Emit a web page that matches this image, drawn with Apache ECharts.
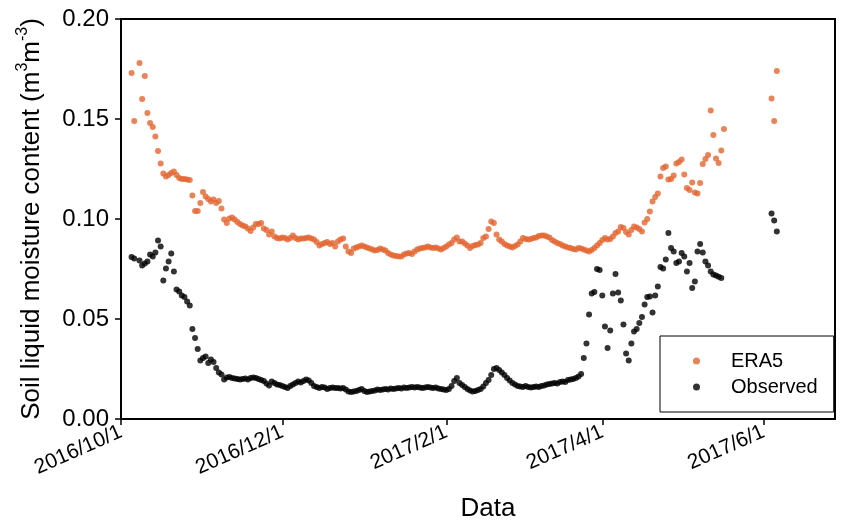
<!DOCTYPE html>
<html>
<head>
<meta charset="utf-8">
<script src="https://cdn.jsdelivr.net/npm/echarts@6/dist/echarts.min.js"></script>
<style>
html,body{margin:0;padding:0;background:#fff;}
#chart{width:842px;height:522px;}
</style>
</head>
<body>
<div id="chart"></div>
<script>
// ---- data ----
const xTickLabels = ['2016/10/1', '2016/12/1', '2017/2/1', '2017/4/1', '2017/6/1'];
const xRange = ['2016/10/1', '2017/6/28'];

// daily values, first entry = mainStart (null = no value that day)
const mainStart = '2016/10/5';
const era5Main = [
  0.173, 0.149, null, 0.178, 0.160, 0.1715, 0.153, 0.148, 0.146, 0.1413,
  0.134, 0.1277, 0.1227, 0.1213, 0.122, 0.123, 0.1238, 0.122, 0.1205, 0.120,
  0.120, 0.1197, 0.1195, 0.1118, 0.104, 0.104, 0.108, 0.1135, 0.1113, 0.110,
  0.1088, 0.1097, 0.108, 0.109, 0.1052, 0.0997, 0.098, 0.1003, 0.1007, 0.0998,
  0.0985, 0.0975, 0.0968, 0.0962, 0.0953, 0.094, 0.0957, 0.0975, 0.0975, 0.098,
  0.0953, 0.0945, 0.0922, 0.0938, 0.0913, 0.0905, 0.0902, 0.0908, 0.0905, 0.0897,
  0.0905, 0.0918, 0.0905, 0.0897, 0.0902, 0.0902, 0.0905, 0.0908, 0.0902, 0.0897,
  0.0885, 0.0868, 0.0875, 0.088, 0.0885, 0.0875, 0.088, 0.0863, 0.0888, 0.0897,
  0.0902, 0.0863, 0.0838, 0.083, 0.0852, 0.0858, 0.0863, 0.0868, 0.0863, 0.0858,
  0.0852, 0.0847, 0.0842, 0.0845, 0.0852, 0.0848, 0.0842, 0.083, 0.0822, 0.0818,
  0.0815, 0.0813, 0.0813, 0.0822, 0.0828, 0.083, 0.0825, 0.0838, 0.0847, 0.0852,
  0.0855, 0.0858, 0.0863, 0.0858, 0.0855, 0.0858, 0.0852, 0.0847, 0.0855, 0.0863,
  0.0872, 0.088, 0.0897, 0.0908, 0.0888, 0.0888, 0.0878, 0.0868, 0.0855, 0.0865,
  0.087, 0.0872, 0.088, 0.0905, 0.0913, 0.095, 0.0988, 0.098, 0.0922, 0.0897,
  0.0887, 0.0875, 0.0868, 0.0863, 0.0858, 0.0865, 0.0872, 0.0888, 0.0905, 0.090,
  0.0897, 0.090, 0.0905, 0.0908, 0.0915, 0.0918, 0.0918, 0.0912, 0.0908, 0.0895,
  0.0888, 0.088, 0.0875, 0.0868, 0.0863, 0.0858, 0.0855, 0.085, 0.0847, 0.0855,
  0.0852, 0.0847, 0.0842, 0.0838, 0.0845, 0.0855, 0.0868, 0.088, 0.0895, 0.0905,
  0.0897, 0.090, 0.0913, 0.093, 0.0938, 0.096, 0.0955, 0.0935, 0.0922, 0.0945,
  0.0963, 0.0958, 0.095, 0.0938, 0.0983, 0.100, 0.1038, 0.1088, 0.111, 0.1127,
  0.1213, 0.1255, 0.1263, 0.1197, 0.120, 0.1217, 0.1277, 0.1285, 0.1297, 0.1222,
  0.1155, 0.1145, 0.1183, 0.1133, 0.1127, 0.118, 0.1275, 0.130, 0.132, 0.1543,
  0.142, 0.1303, 0.128, 0.1342, 0.145
];
const observedMain = [
  0.081, 0.0802, null, 0.0793, 0.0767, 0.0777, 0.0788, 0.0822, 0.0813, 0.0833,
  0.0893, 0.0863, 0.0693, 0.0752, 0.0788, 0.0827, 0.0738, 0.0647, 0.0638, 0.0617,
  0.061, 0.0588, 0.0567, 0.045, 0.0405, 0.035, 0.0293, 0.0305, 0.0313, 0.028,
  0.0297, 0.0285, 0.0255, 0.0233, 0.0222, 0.0197, 0.0208, 0.021, 0.0205, 0.0203,
  0.020, 0.0197, 0.020, 0.0203, 0.0198, 0.0205, 0.0208, 0.0205, 0.020, 0.0195,
  0.019, 0.0178, 0.0168, 0.0187, 0.018, 0.0173, 0.017, 0.0165, 0.016, 0.0155,
  0.0165, 0.0173, 0.018, 0.0187, 0.0182, 0.019, 0.0197, 0.0192, 0.018, 0.0165,
  0.016, 0.0155, 0.016, 0.0158, 0.015, 0.0155, 0.0158, 0.0155, 0.0155, 0.0152,
  0.0155, 0.0148, 0.0138, 0.0135, 0.0138, 0.014, 0.0145, 0.015, 0.014, 0.0135,
  0.0138, 0.014, 0.0143, 0.0147, 0.0145, 0.0148, 0.015, 0.0148, 0.0152, 0.015,
  0.0153, 0.0155, 0.0152, 0.0157, 0.0155, 0.0158, 0.016, 0.0157, 0.016, 0.0158,
  0.0155, 0.0158, 0.016, 0.0158, 0.0155, 0.0157, 0.0152, 0.015, 0.0148, 0.0145,
  0.015, 0.0165, 0.019, 0.0205, 0.018, 0.017, 0.016, 0.015, 0.0143, 0.0138,
  0.014, 0.0145, 0.015, 0.0163, 0.018, 0.0195, 0.022, 0.025, 0.0255, 0.0245,
  0.0232, 0.022, 0.0205, 0.0192, 0.018, 0.0172, 0.0165, 0.0163, 0.016, 0.0165,
  0.016, 0.0157, 0.016, 0.0163, 0.016, 0.0165, 0.0168, 0.0172, 0.0175, 0.0178,
  0.018, 0.0178, 0.0185, 0.0188, 0.0185, 0.0195, 0.0197, 0.020, 0.0205, 0.0212,
  0.0225, 0.0305, 0.0377, 0.0523, 0.0627, 0.0635, 0.075, 0.0745, 0.0617, 0.0463,
  0.0355, 0.0443, 0.0627, 0.0725, 0.0633, 0.0593, 0.0472, 0.0327, 0.0293, 0.0377,
  0.0438, 0.045, 0.048, 0.051, 0.0572, 0.061, 0.0612, 0.0533, 0.0617, 0.0663,
  0.076, 0.0753, 0.0797, 0.093, 0.0855, 0.0838, 0.078, 0.0788, 0.083, 0.0813,
  0.0738, 0.078, 0.0655, 0.0688, 0.0838, 0.0875, 0.0833, 0.0788, 0.0767, 0.0738,
  0.0722, 0.0717, 0.0711, 0.0705
];
const juneStart = '2017/6/4';
const era5June = [0.1603, 0.149, 0.174];
const observedJune = [0.1027, 0.0993, 0.0938];

// ---- helpers ----
function parseDay(s) {
  const p = s.split('/').map(Number);
  return new Date(p[0], p[1] - 1, p[2]);
}
function daily(start, values) {
  const d0 = parseDay(start);
  const out = [];
  values.forEach(function (v, i) {
    if (v == null) return;
    const t = new Date(d0.getFullYear(), d0.getMonth(), d0.getDate() + i).getTime();
    out.push([t, v]);
  });
  return out;
}
const xTickValues = xTickLabels.map(function (s) { return parseDay(s).getTime(); });
const labelMap = {};
xTickValues.forEach(function (t, i) { labelMap[t] = xTickLabels[i]; });

const FONT = '"Liberation Sans", Arial, sans-serif';
const chart = echarts.init(document.getElementById('chart'), null, { renderer: 'canvas' });

chart.setOption({
  animation: false,
  backgroundColor: '#fff',
  textStyle: { fontFamily: FONT },
  grid: {
    left: 121, right: 7, top: 19, bottom: 103,
    outerBoundsMode: 'none',
    containLabel: false,
    show: true, borderColor: '#000', borderWidth: 2, backgroundColor: 'transparent'
  },
  legend: {
    orient: 'vertical',
    left: 660, top: 336,
    padding: [15, 16, 15, 33],
    itemGap: 6,
    itemWidth: 7, itemHeight: 7,
    icon: 'circle',
    borderColor: '#000', borderWidth: 1,
    backgroundColor: '#fff',
    textStyle: { fontSize: 20, color: '#000', fontFamily: FONT, padding: [0, 0, 0, 26] },
    data: ['ERA5', 'Observed']
  },
  xAxis: {
    type: 'value',
    min: parseDay(xRange[0]).getTime(),
    max: parseDay(xRange[1]).getTime(),
    name: 'Data',
    nameLocation: 'middle',
    nameGap: 77,
    nameTextStyle: { fontSize: 26, color: '#000', fontFamily: FONT, padding: [0, 0, 0, 20] },
    axisLine: { show: true, onZero: false, lineStyle: { color: '#000', width: 2 } },
    axisTick: { show: true, inside: false, length: 6, customValues: xTickValues, lineStyle: { color: '#000', width: 1.5 } },
    axisLabel: {
      customValues: xTickValues,
      rotate: 24,
      margin: 12,
      fontSize: 21,
      color: '#000',
      fontFamily: FONT,
      showMinLabel: true, showMaxLabel: true,
      formatter: function (v) { return labelMap[v] || ''; }
    },
    splitLine: { show: false }
  },
  yAxis: {
    type: 'value',
    min: 0, max: 0.2, interval: 0.05,
    name: '{a|Soil liquid moisture content (m}{s|3}{a|m}{s|-3}{a|)}',
    nameLocation: 'middle',
    nameGap: 76,
    nameTextStyle: {
      color: '#000',
      rich: {
        a: { fontSize: 26, fontFamily: FONT, color: '#000', verticalAlign: 'bottom', lineHeight: 30 },
        s: { fontSize: 16, fontFamily: FONT, color: '#000', verticalAlign: 'top', lineHeight: 16 }
      }
    },
    axisLine: { show: true, onZero: false, lineStyle: { color: '#000', width: 2 } },
    axisTick: { show: true, inside: false, length: 6, lineStyle: { color: '#000', width: 1.5 } },
    axisLabel: {
      fontSize: 24, color: '#000', margin: 12, fontFamily: FONT,
      formatter: function (v) { return v.toFixed(2); }
    },
    splitLine: { show: false }
  },
  series: [
    {
      name: 'ERA5', type: 'scatter', symbol: 'circle', symbolSize: 6,
      itemStyle: { color: '#E2652F' },
      data: daily(mainStart, era5Main).concat(daily(juneStart, era5June))
    },
    {
      name: 'Observed', type: 'scatter', symbol: 'circle', symbolSize: 6,
      itemStyle: { color: '#000000' },
      data: daily(mainStart, observedMain).concat(daily(juneStart, observedJune))
    }
  ]
});
</script>
</body>
</html>
